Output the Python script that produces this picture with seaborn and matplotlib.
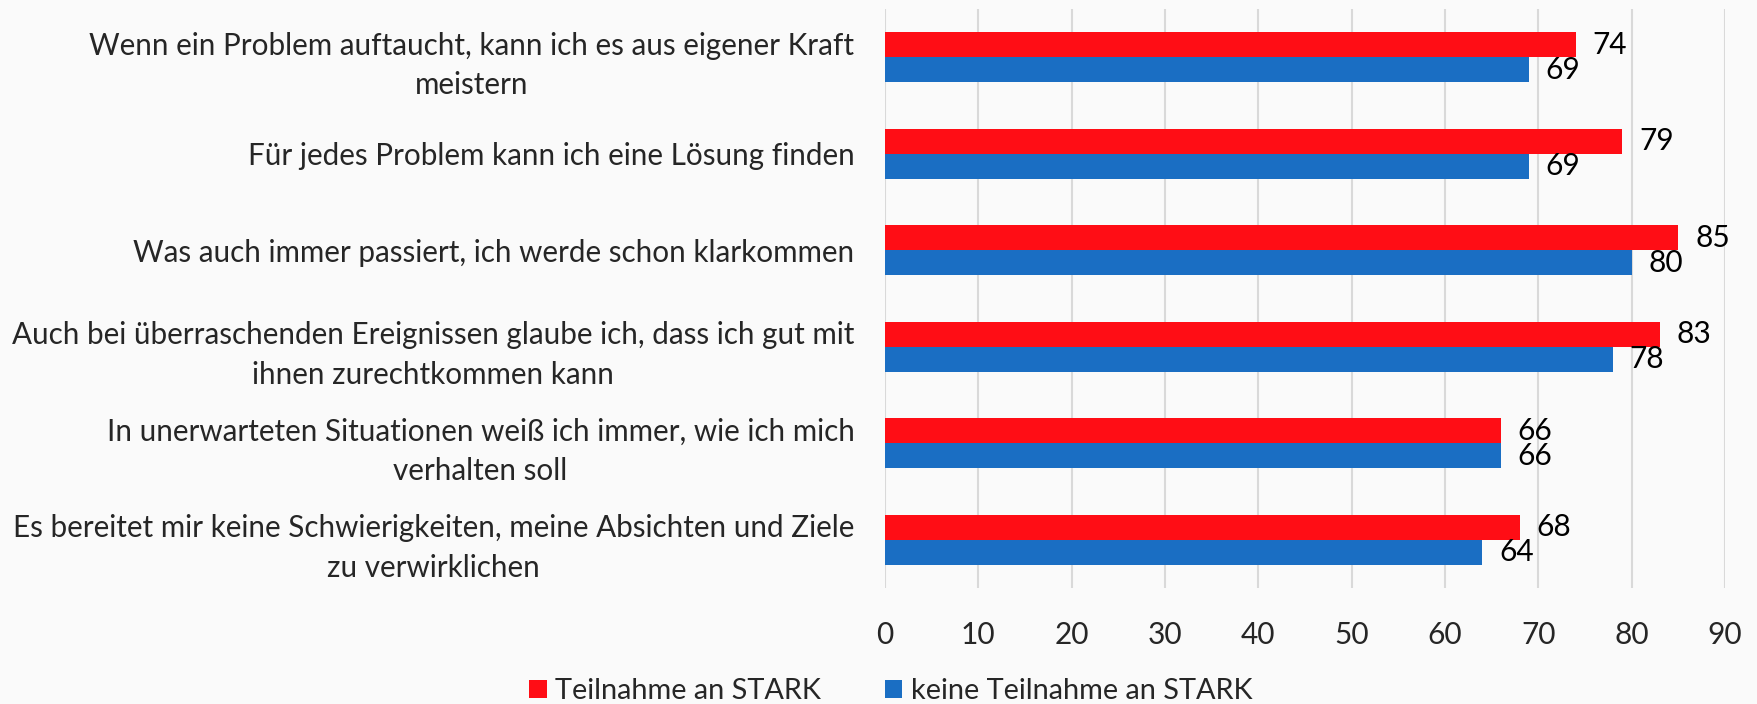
import pandas as pd
import matplotlib
matplotlib.use("Agg")
import matplotlib.pyplot as plt
import seaborn as sns

# Data
statements = [
    "Wenn ein Problem auftaucht, kann ich es aus eigener Kraft\nmeistern",
    "Für jedes Problem kann ich eine Lösung finden",
    "Was auch immer passiert, ich werde schon klarkommen",
    "Auch bei überraschenden Ereignissen glaube ich, dass ich gut mit\nihnen zurechtkommen kann",
    "In unerwarteten Situationen weiß ich immer, wie ich mich\nverhalten soll",
    "Es bereitet mir keine Schwierigkeiten, meine Absichten und Ziele\nzu verwirklichen",
]
groups = ["Teilnahme an STARK", "keine Teilnahme an STARK"]
teilnahme = [74, 79, 85, 83, 66, 68]
keine_teilnahme = [69, 69, 80, 78, 66, 64]
x_ticks = [0, 10, 20, 30, 40, 50, 60, 70, 80, 90]

colors = ["#FF0D15", "#1A6EC3"]
bg = "#FAFAFA"

df = pd.DataFrame({
    "statement": statements * 2,
    "group": [groups[0]] * len(statements) + [groups[1]] * len(statements),
    "value": teilnahme + keine_teilnahme,
})

sns.set_theme(style="white")
plt.rcParams["font.family"] = ["Lato", "DejaVu Sans"]

fig = plt.figure(figsize=(17.57, 7.04), dpi=100, facecolor=bg)
ax = fig.add_axes([0.5037, 0.165, 0.4781, 0.822])
ax.set_facecolor(bg)

sns.barplot(data=df, x="value", y="statement", hue="group", hue_order=groups,
            palette=colors, orient="h", width=0.52, saturation=1,
            linewidth=0, ax=ax, legend=True)

for cont in ax.containers:
    ax.bar_label(cont, fmt="%d", padding=12, fontsize=21.5, color="black")

ax.set_xlim(0, 90)
ax.set_xticks(x_ticks)
ax.set_xlabel("")
ax.set_ylabel("")
ax.grid(axis="x", color="#D9D9D9", linewidth=1.5)
ax.set_axisbelow(True)
for s in ax.spines.values():
    s.set_visible(False)
ax.tick_params(axis="x", length=0, pad=24, labelsize=21.5)
ax.tick_params(axis="y", length=0, pad=22, labelsize=21.3)
for lab in ax.get_yticklabels():
    lab.set_multialignment("center")
    lab.set_linespacing(1.5)

handles, labels = ax.get_legend_handles_labels()
ax.get_legend().remove()
fig.legend(handles, labels, loc="lower center", bbox_to_anchor=(0.507, -0.037),
           ncol=2, frameon=False, fontsize=20.8, handlelength=0.6,
           handleheight=0.6, handletextpad=0.3, columnspacing=2.2)

fig.savefig("out.png", dpi=100, facecolor=bg)
